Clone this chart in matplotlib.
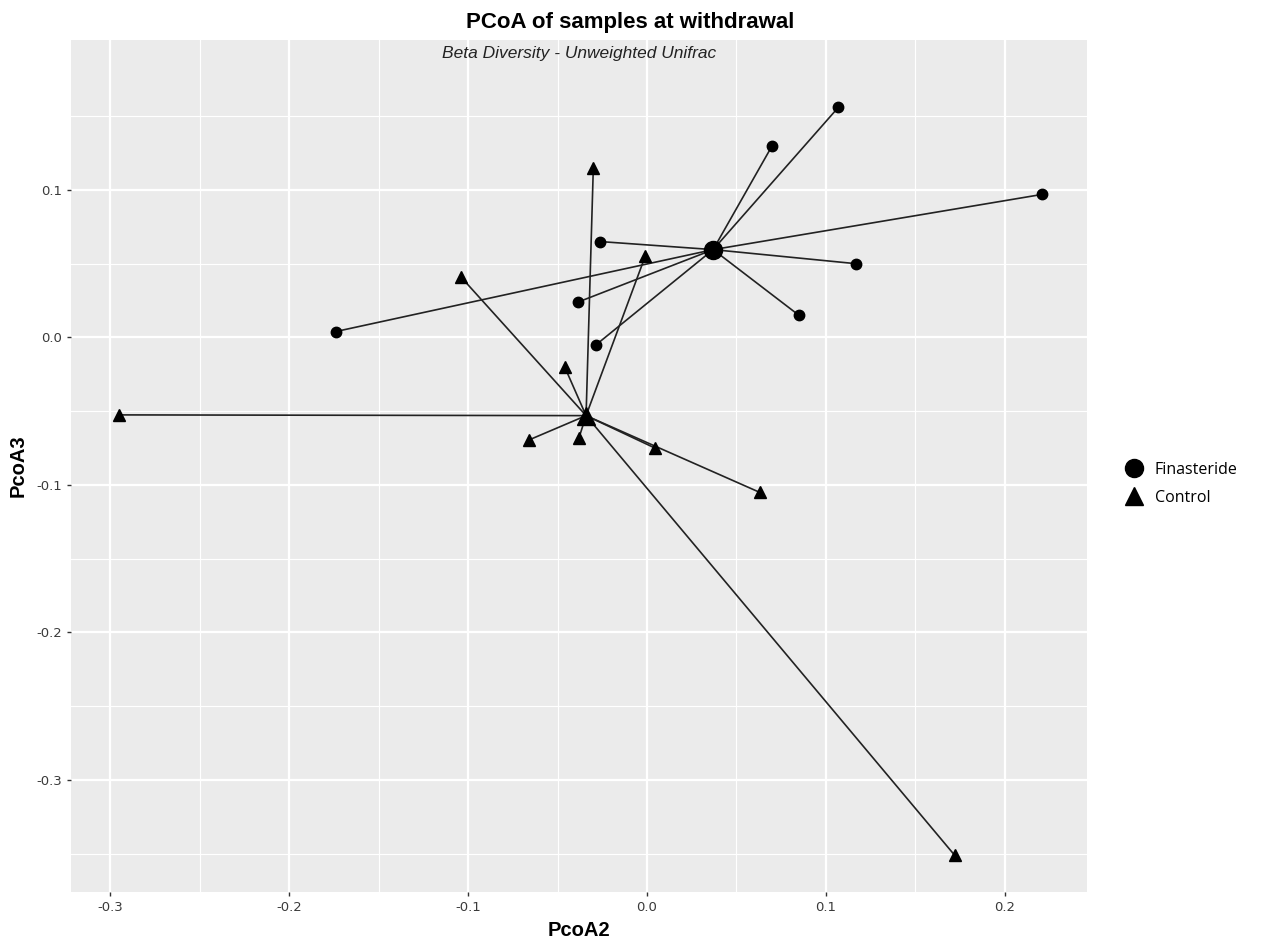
import numpy as np
import matplotlib
matplotlib.use('Agg')
import matplotlib.pyplot as plt
from matplotlib.lines import Line2D

# PCoA coordinates per sample
fin_x = [0.107, 0.070, 0.221, -0.026, 0.117, -0.0385, 0.085, -0.0285, -0.174]
fin_y = [0.156, 0.130, 0.097, 0.065, 0.050, 0.024, 0.015, -0.005, 0.004]
ctl_x = [-0.030, -0.001, -0.104, -0.046, -0.066, -0.038, 0.0045, -0.295, 0.063, 0.172]
ctl_y = [0.115, 0.055, 0.041, -0.020, -0.0695, -0.068, -0.075, -0.0525, -0.105, -0.351]

groups = ['Finasteride', 'Control']
markers = ['o', '^']

x_ticks = [-0.3, -0.2, -0.1, 0.0, 0.1, 0.2]
y_ticks = [-0.3, -0.2, -0.1, 0.0, 0.1]

fig = plt.figure(figsize=(12.71, 9.49), dpi=100)
ax = fig.add_axes([0.0559, 0.060, 0.7993, 0.8979])
ax.set_facecolor('#EBEBEB')

data = [(fin_x, fin_y), (ctl_x, ctl_y)]
for (xs, ys), mk in zip(data, markers):
    cx, cy = np.mean(xs), np.mean(ys)
    # spokes from group centroid to each sample
    for x, y in zip(xs, ys):
        ax.plot([cx, x], [cy, y], color='#222222', lw=1.2, zorder=2)
    ms = 7.5 if mk == 'o' else 9
    ax.plot(xs, ys, ls='none', marker=mk, ms=ms, color='black', zorder=3)
    ax.plot([cx], [cy], ls='none', marker=mk, ms=13, color='black', zorder=4)

ax.set_xticks(x_ticks)
ax.set_xticklabels(['%.1f' % v for v in x_ticks])
ax.set_yticks(y_ticks)
ax.set_yticklabels(['%.1f' % v for v in y_ticks])
ax.set_xticks(np.arange(-0.25, 0.26, 0.1), minor=True)
ax.set_yticks(np.arange(-0.35, 0.2, 0.1), minor=True)
ax.set_xlim(-0.322, 0.246)
ax.set_ylim(-0.376, 0.2017)
ax.grid(which='major', color='white', lw=1.6)
ax.grid(which='minor', color='white', lw=0.8)
ax.set_axisbelow(True)
for s in ax.spines.values():
    s.set_visible(False)
ax.tick_params(which='major', length=3, width=1, color='#333333',
               labelsize=9.5, labelcolor='#3A3A3A')
ax.tick_params(which='minor', length=0)

ax.set_xlabel('PcoA2', fontsize=14.5, fontweight='bold', family='Liberation Sans', labelpad=5)
ax.set_ylabel('PcoA3', fontsize=14.5, fontweight='bold', family='Liberation Sans', labelpad=6)

fig.text(0.496, 0.976, 'PCoA of samples at withdrawal', ha='center', va='center',
         fontsize=16, fontweight='bold', family='Liberation Sans')
fig.text(0.456, 0.944, 'Beta Diversity - Unweighted Unifrac', ha='center', va='center',
         fontsize=12.5, style='italic', family='Liberation Sans', color='#222222')

handles = [Line2D([], [], ls='none', marker=m, ms=13, color='black') for m in markers]
leg = fig.legend(handles, groups, loc='center left', bbox_to_anchor=(0.872, 0.4905),
                 frameon=False, handletextpad=0.6, labelspacing=0.75,
                 prop={'family': 'Open Sans', 'size': 11.5}, handlelength=1.4)

fig.savefig('out.png', dpi=100)
